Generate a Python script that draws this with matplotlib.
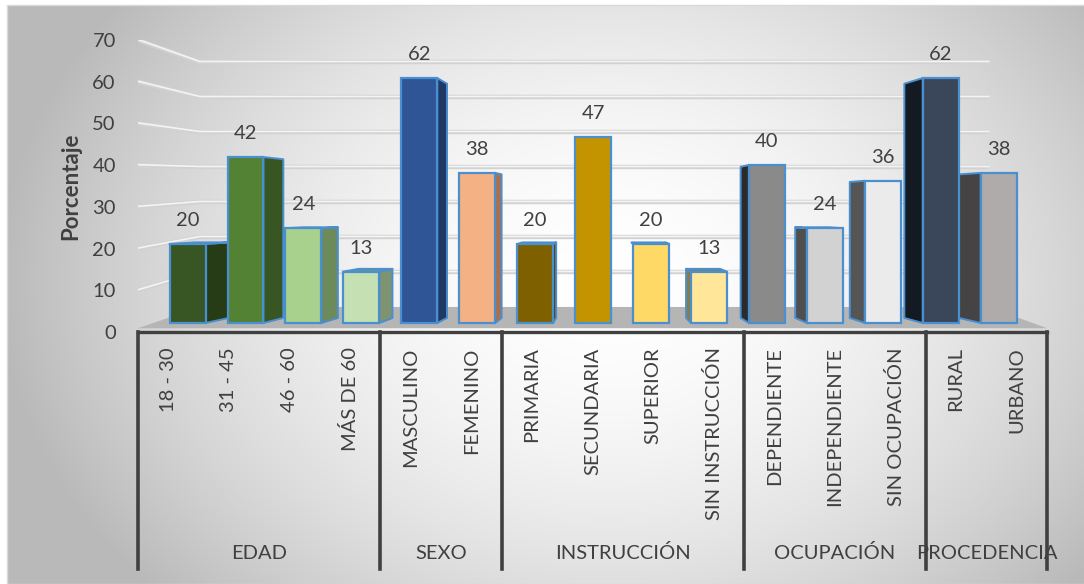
import numpy as np
import matplotlib
matplotlib.use("Agg")
import matplotlib.pyplot as plt
from matplotlib.patches import Polygon, Rectangle

plt.rcParams['font.family'] = ['Lato', 'DejaVu Sans']

# data
categorias = ['18 - 30', '31 - 45', '46 - 60', 'MÁS DE 60',
              'MASCULINO', 'FEMENINO',
              'PRIMARIA', 'SECUNDARIA', 'SUPERIOR', 'SIN INSTRUCCIÓN',
              'DEPENDIENTE', 'INDEPENDIENTE', 'SIN OCUPACIÓN',
              'RURAL', 'URBANO']
porcentajes = [20, 42, 24, 13, 62, 38, 20, 47, 20, 13, 40, 24, 36, 62, 38]
grupos = ['EDAD', 'SEXO', 'INSTRUCCIÓN', 'OCUPACIÓN', 'PROCEDENCIA']
tam_grupos = [4, 2, 4, 3, 2]

# colours (front face / side face)
frente = ['#375623', '#548235', '#a9d18e', '#c5e0b3',
          '#2f5597', '#f4b183',
          '#7f6000', '#c49400', '#ffd966', '#ffe699',
          '#8a8a8a', '#d2d2d2', '#ebebeb',
          '#3a4659', '#afabab']
lado = ['#253c17', '#375623', '#6d8a5a', '#7e9470',
        '#1f3864', '#a9704a',
        '#4d3b00', '#8a6800', '#a89449', '#8c7a45',
        '#2b2b2b', '#4f4f4f', '#555555',
        '#141a22', '#454343']
borde = '#4a8fd0'
texto = '#404040'
fs = 14.5

W, H = 1084, 584
fig = plt.figure(figsize=(W / 100, H / 100), dpi=100)

# radial grey background of the chart area
bg = fig.add_axes([7 / W, 0, 1 - 7 / W, 1 - 5 / H])
yy, xx = np.mgrid[0:579, 0:1077]
r = np.sqrt(((xx - 600) / 560.0) ** 2 + ((yy - 275) / 430.0) ** 2)
gris = 255 - 60 * np.clip(r, 0, 1.4) ** 1.8
gris = np.clip(gris, 185, 255) / 255.0
bg.imshow(np.dstack([gris, gris, gris]), aspect='auto', interpolation='bilinear')
bg.axis('off')
fig.patches.append(Rectangle((7 / W, 0), 1, 1 - 5 / H, transform=fig.transFigure,
                             fill=False, edgecolor='#d9d9d9', lw=1))

# main axes: x = category slot, y = percentage
x0, x1 = 138, 1047
y0, y70 = 332, 40
ax = fig.add_axes([x0 / W, (H - y0) / H, (x1 - x0) / W, (y0 - y70) / H])
ax.set_facecolor('none')
n = len(categorias)
ax.set_xlim(-0.5, n - 0.5)
ax.set_ylim(0, 70)

# simple perspective: vanishing column, depth scale and vertical mapping
vx = 7.22
k_front, k_back, k_wall = 0.956, 0.942, 0.868


def y_front(v):
    return 2.16 + 0.947 * v


def y_back(v):
    return 3.36 + 0.906 * v


def y_wall(v):
    return 6.0 + 0.839 * v


wl = vx + (-0.5 - vx) * k_wall
wr = vx + (n - 0.5 - vx) * k_wall

# back wall and left wall gridlines
for v in range(10, 80, 10):
    xs = [-0.5, wl, wr]
    ys = [v, y_wall(v), y_wall(v)]
    ax.plot(xs, ys, color='#d2d2d2', lw=3.2, solid_capstyle='butt', zorder=1)
    ax.plot(xs, [y + 0.12 for y in ys], color='#f4f4f4', lw=1.2, zorder=1)

# floor
ax.add_patch(Polygon([(-0.5, 0.9), (wl, y_wall(0)), (wr, y_wall(0)), (n - 0.5, 0.9)],
                     closed=True, facecolor='#b5b5b5', edgecolor='none', zorder=2))

# bars
ancho = 0.62
for i, v in enumerate(porcentajes):
    xc = vx + (i - vx) * k_front
    w = ancho * k_front
    xl, xr = xc - w / 2, xc + w / 2
    xlb = vx + (xl - vx) * k_back
    xrb = vx + (xr - vx) * k_back
    yb, yt = y_front(0), y_front(v)
    ybb, ytb = y_back(0), y_back(v)
    if xc < vx + 1.0:
        side = [(xr, yb), (xrb, ybb), (xrb, ytb), (xr, yt)]
    else:
        side = [(xl, yb), (xlb, ybb), (xlb, ytb), (xl, yt)]
    ax.add_patch(Polygon(side, closed=True, facecolor=lado[i], edgecolor=borde,
                         lw=1.4, joinstyle='round', zorder=3))
    if ytb > yt:
        top = [(xl, yt), (xr, yt), (xrb, ytb), (xlb, ytb)]
        ax.add_patch(Polygon(top, closed=True, facecolor=lado[i], edgecolor=borde,
                             lw=1.4, joinstyle='round', zorder=3))
    ax.bar(xc, yt - yb, width=w, bottom=yb, color=frente[i], edgecolor=borde,
           linewidth=1.6, zorder=4)
    ax.annotate(str(v), (xc, yt), xytext=(0, 13), textcoords='offset points',
                ha='center', va='baseline', fontsize=fs, color=texto, zorder=5)

# axes styling
for s in ['top', 'right', 'left']:
    ax.spines[s].set_visible(False)
ax.spines['bottom'].set_color(texto)
ax.spines['bottom'].set_linewidth(2.4)
ax.set_yticks(range(0, 80, 10))
ax.tick_params(axis='y', length=0, pad=16, labelsize=fs, labelcolor=texto)
ax.set_xticks(range(n))
ax.set_xticklabels(categorias, rotation=90, va='top', ha='center')
ax.tick_params(axis='x', length=0, pad=11, labelsize=fs, labelcolor=texto)
ax.set_ylabel('Porcentaje', fontsize=16, fontweight='bold', color=texto, labelpad=8)

# group separators and group names under the category labels
trans = ax.get_xaxis_transform()
lim = np.cumsum([0] + tam_grupos) - 0.5
for b in lim:
    ax.plot([b, b], [0, -0.81], transform=trans, color=texto, lw=2.6,
            clip_on=False, zorder=6)
for g, a, b in zip(grupos, lim[:-1], lim[1:]):
    ax.text((a + b) / 2, -0.757, g, transform=trans, ha='center', va='center',
            fontsize=fs, color=texto)

fig.savefig('out.png', dpi=100)
